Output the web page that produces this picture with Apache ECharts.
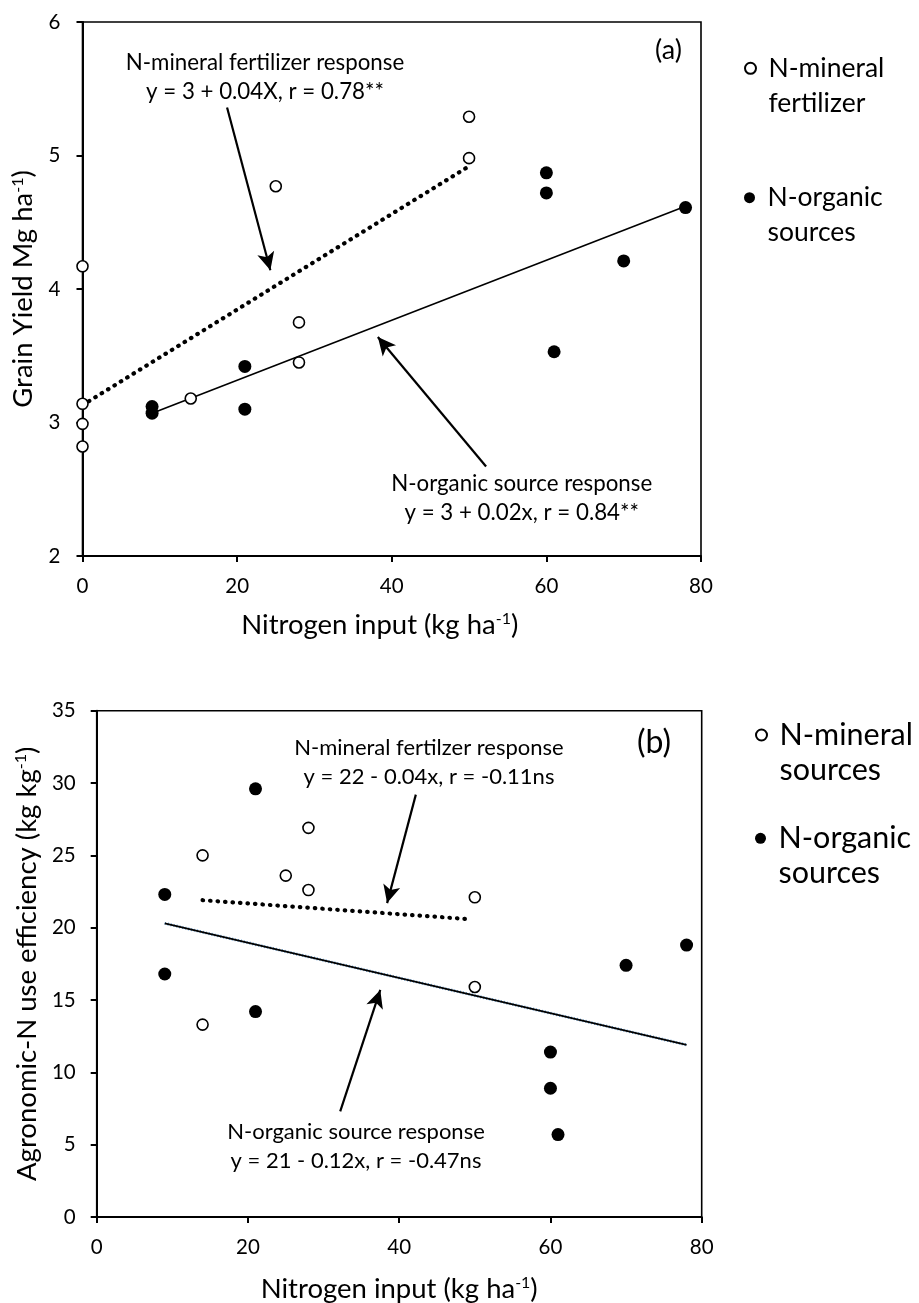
<!DOCTYPE html>
<html>
<head>
<meta charset="utf-8">
<script src="https://cdn.jsdelivr.net/npm/echarts@6/dist/echarts.min.js"></script>
<style>
    html, body { margin: 0; padding: 0; background: #fff; }
    #chart { width: 919px; height: 1303px; }
</style>
</head>
<body>
<div id="chart"></div>
<script>
// panel (a): grain yield
var mineralNA = [0, 0, 0, 0, 14, 25, 28, 28, 50, 50];
var mineralYieldA = [4.17, 3.14, 2.99, 2.82, 3.18, 4.77, 3.75, 3.45, 5.29, 4.98];
var organicNA = [9, 9, 21, 21, 60, 60, 61, 70, 78];
var organicYieldA = [3.12, 3.07, 3.42, 3.10, 4.87, 4.72, 3.53, 4.21, 4.61];
var mineralFitA = [[0, 3.13], [50, 4.92]];
var organicFitA = [[9, 3.07], [78, 4.62]];
var arrowsA = [[[18.7, 5.36], [24.3, 4.14]], [[52.2, 2.67], [38.2, 3.64]]];

// panel (b): agronomic N use efficiency
var mineralNB = [14, 14, 25, 28, 28, 50, 50];
var mineralAEB = [25.0, 13.3, 23.6, 26.9, 22.6, 22.1, 15.9];
var organicNB = [9, 9, 21, 21, 60, 60, 61, 70, 78];
var organicAEB = [22.3, 16.8, 29.6, 14.2, 11.4, 8.9, 5.7, 17.4, 18.8];
var mineralFitB = [[14, 21.9], [49, 20.6]];
var organicFitB = [[9, 20.3], [78, 11.9]];
var arrowsB = [[[42.2, 29.2], [38.4, 21.7]], [[32.2, 7.3], [37.5, 15.7]]];

var FONT = 'Lato';

function zip(xs, ys) {
    return xs.map(function (x, i) { return [x, ys[i]]; });
}

function arrowLines(arrows) {
    return arrows.map(function (a) {
        return [{coord: a[0]}, {coord: a[1]}];
    });
}

function nameStyle(size, padding) {
    return {
        fontFamily: FONT, fontSize: size, color: '#000',
        padding: padding || 0,
        rich: {sup: {fontFamily: FONT, fontSize: 16, verticalAlign: 'top', padding: [0, 0, 12, 0]}}
    };
}

function xAxis(gridIndex, gap, padding) {
    return {
        gridIndex: gridIndex,
        type: 'value',
        min: 0,
        max: 80,
        interval: 20,
        name: 'Nitrogen input (kg ha{sup|-1})',
        nameLocation: 'middle',
        nameGap: gap,
        nameTextStyle: nameStyle(27.5, padding),
        axisLine: {show: true, onZero: false, lineStyle: {color: '#000', width: 2}},
        axisTick: {show: true, length: 6, lineStyle: {color: '#000', width: 2}},
        axisLabel: {fontFamily: FONT, fontSize: 20.5, color: '#000', margin: 20},
        splitLine: {show: false}
    };
}

function yAxis(gridIndex, min, max, interval, name, gap, margin) {
    return {
        gridIndex: gridIndex,
        type: 'value',
        min: min,
        max: max,
        interval: interval,
        name: name,
        nameLocation: 'middle',
        nameRotate: 90,
        nameGap: gap,
        nameTextStyle: nameStyle(27.5),
        axisLine: {show: true, onZero: false, lineStyle: {color: '#000', width: 2}},
        axisTick: {show: true, length: 6, lineStyle: {color: '#000', width: 2}},
        axisLabel: {fontFamily: FONT, fontSize: 20.5, color: '#000', margin: margin},
        splitLine: {show: false}
    };
}

function openPoints(name, idx, data) {
    return {
        name: name, type: 'scatter', xAxisIndex: idx, yAxisIndex: idx,
        data: data, symbol: 'circle', symbolSize: 11, z: 5,
        itemStyle: {color: '#fff', borderColor: '#000', borderWidth: 1.6, opacity: 1}
    };
}

function filledPoints(name, idx, data) {
    return {
        name: name, type: 'scatter', xAxisIndex: idx, yAxisIndex: idx,
        data: data, symbol: 'circle', symbolSize: 13, z: 5,
        itemStyle: {color: '#000', borderWidth: 0, opacity: 1}
    };
}

function fitLine(idx, data, dotted, arrows) {
    var s = {
        type: 'line', xAxisIndex: idx, yAxisIndex: idx, data: data,
        showSymbol: false, symbol: 'none', silent: true, z: 3,
        lineStyle: dotted
            ? {color: '#000', width: 4.2, type: [0.5, 7], cap: 'round'}
            : {color: '#000', width: 1.6}
    };
    if (arrows) {
        s.markLine = {
            silent: true,
            symbol: ['none', 'arrow'],
            symbolSize: [13, 18],
            label: {show: false},
            lineStyle: {color: '#000', width: 2.2, type: 'solid'},
            data: arrowLines(arrows)
        };
    }
    return s;
}

// one legend per item so the icon sits on the first text line
function legend(name, left, iconY, size) {
    return {
        data: [{name: name, icon: 'circle'}],
        orient: 'vertical',
        left: left,
        top: iconY - 52.5,
        padding: 0,
        itemWidth: 26,
        itemHeight: 11,
        selectedMode: false,
        itemStyle: {opacity: 1},
        formatter: function (n) { return '\n' + n.trim().replace(' ', '\n'); },
        textStyle: {fontFamily: FONT, fontSize: size, color: '#000', lineHeight: 35}
    };
}

var chart = echarts.init(document.getElementById('chart'));

var option = {
    backgroundColor: '#fff',
    animation: false,
    grid: [
        {left: 82.5, top: 22, width: 618.5, height: 534, show: true, borderColor: '#000', borderWidth: 1.6, backgroundColor: 'transparent', outerBoundsMode: 'none'},
        {left: 96.7, top: 710.7, width: 605, height: 506.3, show: true, borderColor: '#000', borderWidth: 1.6, backgroundColor: 'transparent', outerBoundsMode: 'none'}
    ],
    xAxis: [xAxis(0, 55, [0, 24, 0, 0]), xAxis(1, 58)],
    yAxis: [
        yAxis(0, 2, 6, 1, 'Grain Yield Mg ha{sup|-1})', 45, 22),
        yAxis(1, 0, 35, 5, 'Agronomic-N use efficiency (kg kg{sup|-1})', 50, 21)
    ],
    legend: [
        legend('N-mineral fertilizer', 744, 68.3, 26.5),
        legend('N-organic sources', 744, 197.7, 26.5),
        legend('N-mineral sources', 755, 735, 30.5),
        legend('N-organic sources ', 755, 838.3, 30.5)
    ],
    series: [
        fitLine(0, mineralFitA, true, arrowsA),
        fitLine(0, organicFitA, false),
        openPoints('N-mineral fertilizer', 0, zip(mineralNA, mineralYieldA)),
        filledPoints('N-organic sources', 0, zip(organicNA, organicYieldA)),

        fitLine(1, mineralFitB, true, arrowsB),
        {
            type: 'line', xAxisIndex: 1, yAxisIndex: 1, data: organicFitB,
            showSymbol: false, symbol: 'none', silent: true, z: 2,
            lineStyle: {color: '#5b9bd5', width: 3, type: [1, 2]}
        },
        fitLine(1, organicFitB, false),
        openPoints('N-mineral sources', 1, zip(mineralNB, mineralAEB)),
        filledPoints('N-organic sources ', 1, zip(organicNB, organicAEB))
    ],
    graphic: [
        {type: 'text', x: 265, y: 77.5, silent: true, style: {text: 'N-mineral fertilizer response\ny = 3 + 0.04X, r = 0.78**', fontFamily: FONT, fontSize: 22.3, lineHeight: 29, fill: '#000', align: 'center', verticalAlign: 'middle'}},
        {type: 'text', x: 521.7, y: 498.5, silent: true, style: {text: 'N-organic source response\ny = 3 + 0.02x, r = 0.84**', fontFamily: FONT, fontSize: 22.3, lineHeight: 29, fill: '#000', align: 'center', verticalAlign: 'middle'}},
        {type: 'text', x: 668.5, y: 50, silent: true, style: {text: '(a)', fontFamily: FONT, fontSize: 27, fill: '#000', align: 'center', verticalAlign: 'middle'}},
        {type: 'text', x: 429, y: 762.5, silent: true, style: {text: 'N-mineral fertilzer response\ny = 22 - 0.04x, r = -0.11ns', fontFamily: FONT, fontSize: 22, lineHeight: 28.4, fill: '#000', align: 'center', verticalAlign: 'middle'}},
        {type: 'text', x: 356, y: 1146.3, silent: true, style: {text: 'N-organic source response\ny = 21 - 0.12x, r = -0.47ns', fontFamily: FONT, fontSize: 22, lineHeight: 29.3, fill: '#000', align: 'center', verticalAlign: 'middle'}},
        {type: 'text', x: 654, y: 743, silent: true, style: {text: '(b)', fontFamily: FONT, fontSize: 32, fill: '#000', align: 'center', verticalAlign: 'middle'}}
    ]
};

chart.setOption(option);
</script>
</body>
</html>
